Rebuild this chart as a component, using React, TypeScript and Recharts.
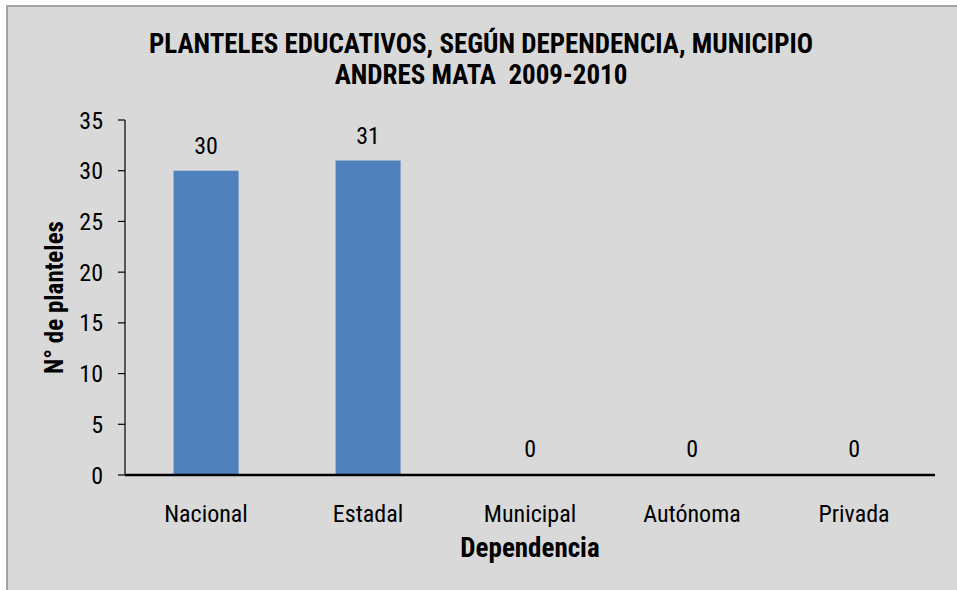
import React from 'react';
import { BarChart, Bar, XAxis, YAxis, Rectangle } from 'recharts';

const dependencias = ['Nacional', 'Estadal', 'Municipal', 'Autónoma', 'Privada'];
const planteles = [30, 31, 0, 0, 0];
const yTicks = [0, 5, 10, 15, 20, 25, 30, 35];

const tituloLinea1 = 'PLANTELES EDUCATIVOS, SEGÚN DEPENDENCIA, MUNICIPIO';
const tituloLinea2 = 'ANDRES MATA  2009-2010';

const FONT = '"Liberation Sans Narrow", "Arial Narrow", "Roboto Condensed", sans-serif';

const data = dependencias.map((d, i) => ({ dependencia: d, planteles: planteles[i] }));

const YLabel = (props: any) => {
  const vb = props.viewBox || {};
  const cx = vb.x - 11;
  const cy = vb.y + vb.height / 2;
  return (
    <text
      x={cx}
      y={cy}
      transform={`rotate(-90, ${cx}, ${cy})`}
      textAnchor="middle"
      dominantBaseline="central"
      fontFamily={FONT}
      fontWeight="bold"
      fontSize={25}
      fill="#000"
    >
      N° de planteles
    </text>
  );
};

// zero bars keep a label, but draw no rectangle
const BarShape = (props: any) => {
  if (!props.value) return <g />;
  return <Rectangle {...props} />;
};

const ValueLabel = (props: any) => {
  const { x, y, width, value } = props;
  return (
    <text
      x={x + width / 2}
      y={y - 17}
      textAnchor="middle"
      fontFamily={FONT}
      fontSize={24}
      fill="#000"
    >
      {value}
    </text>
  );
};

const App: React.FC = () => {
  return (
    <div style={{ position: 'fixed', left: 0, top: 0, width: 957, height: 590, background: '#fff', overflow: 'hidden' }}>
      <div
        style={{
          position: 'absolute',
          left: 6,
          top: 5,
          right: 0,
          bottom: 0,
          background: '#d9d9d9',
          borderTop: '2px solid #a3a3a3',
          borderLeft: '2px solid #a3a3a3'
        }}
      />
      <div
        style={{
          position: 'absolute',
          left: 0,
          top: 29,
          width: 962,
          textAlign: 'center',
          fontFamily: FONT,
          fontWeight: 'bold',
          fontSize: 27,
          lineHeight: '31px',
          color: '#000',
          whiteSpace: 'pre'
        }}
      >
        <div>{tituloLinea1}</div>
        <div>{tituloLinea2}</div>
      </div>
      <div style={{ position: 'absolute', left: 0, top: 0 }}>
        <BarChart
          width={957}
          height={590}
          data={data}
          margin={{ top: 120, right: 22, bottom: 15, left: 65 }}
          barCategoryGap="30%"
        >
          <XAxis
            dataKey="dependencia"
            height={100}
            tickSize={0}
            tickLine={false}
            tickMargin={30}
            axisLine={{ stroke: '#000', strokeWidth: 2.5 }}
            tick={{ fill: '#000', fontSize: 24, fontFamily: FONT }}
            label={{
              value: 'Dependencia',
              position: 'insideBottom',
              offset: 18,
              fill: '#000',
              fontSize: 27,
              fontWeight: 'bold',
              fontFamily: FONT
            }}
          />
          <YAxis
            width={60}
            domain={[0, 35]}
            ticks={yTicks}
            interval={0}
            tickSize={7}
            tickMargin={15}
            axisLine={{ stroke: '#000', strokeWidth: 1.2 }}
            tickLine={{ stroke: '#000', strokeWidth: 1.2 }}
            tick={{ fill: '#000', fontSize: 24, fontFamily: FONT }}
            label={<YLabel />}
          />
          <Bar
            dataKey="planteles"
            fill="#4f81bd"
            minPointSize={1}
            shape={<BarShape />}
            label={<ValueLabel />}
            isAnimationActive={false}
          />
        </BarChart>
      </div>
    </div>
  );
};

export default App;
